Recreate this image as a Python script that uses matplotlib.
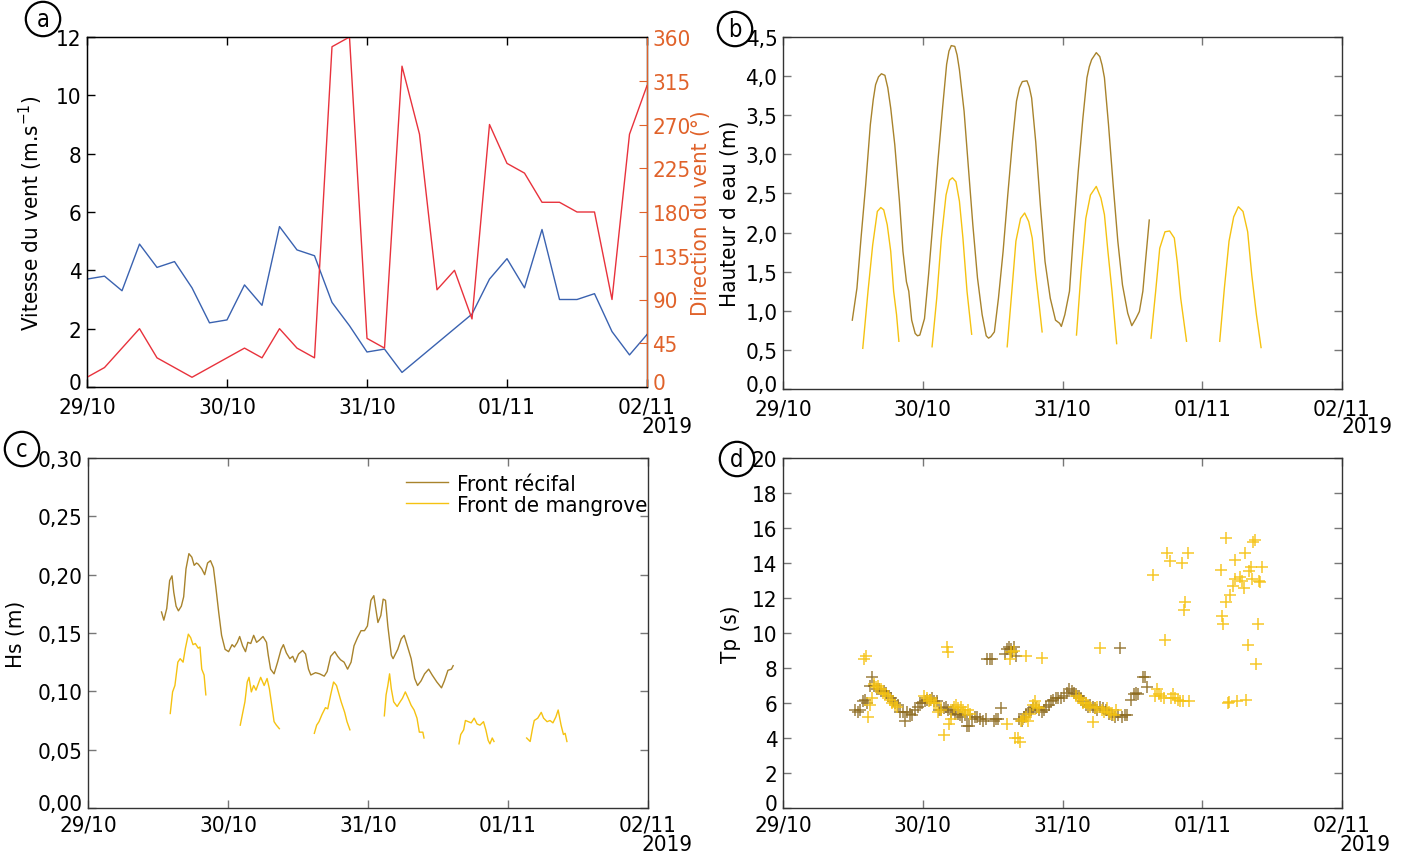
import numpy as np
import pandas as pd
import matplotlib
matplotlib.use("Agg")
import matplotlib.pyplot as plt
import matplotlib.dates as mdates
import matplotlib.transforms as mtransforms
from matplotlib import font_manager as fm

# ---------------- fonts ----------------
_entries = fm.fontManager.ttflist
_names = {f.name for f in _entries}
_cond = [f for f in _entries
         if (('Condensed' in f.fname or 'Narrow' in f.fname or 'Narrow' in f.name
              or 'Condensed' in f.name or str(f.stretch) in ('condensed', 'semi-condensed', '500', '300'))
             and 'Mono' not in f.fname and 'Serif' not in f.fname and 'Bold' not in f.fname
             and 'Italic' not in f.fname and 'Oblique' not in f.fname)]
STRETCH = 'normal'
if 'Liberation Sans Narrow' in _names:
    MAIN = 'Liberation Sans Narrow'
elif _cond:
    MAIN = _cond[0].name
    STRETCH = 'condensed'
elif 'Lato' in _names:
    MAIN = 'Lato'
else:
    MAIN = 'DejaVu Sans'
FAM = [MAIN, 'DejaVu Sans']
plt.rcParams['font.family'] = FAM
plt.rcParams['font.stretch'] = STRETCH
plt.rcParams['mathtext.fontset'] = 'custom'
plt.rcParams['mathtext.rm'] = MAIN
plt.rcParams['mathtext.it'] = MAIN

# ---------------- data ----------------
BASE = pd.Timestamp('2019-10-29')

# (a) wind every 3 h
wind_hours = list(range(0, 97, 3))
wind_speed = [3.7, 3.8, 3.3, 4.9, 4.1, 4.3, 3.4, 2.2, 2.3, 3.5, 2.8, 5.5, 4.7, 4.5, 2.9, 2.1,
              1.2, 1.3, 0.5, 1.0, 1.5, 2.0, 2.5, 3.7, 4.4, 3.4, 5.4, 3.0, 3.0, 3.2, 1.9, 1.1, 1.8]
wind_dir = [10, 20, 40, 60, 30, 20, 10, 20, 30, 40, 30, 60, 40, 30, 350, 360,
            50, 40, 330, 260, 100, 120, 70, 270, 230, 220, 190, 190, 180, 180, 90, 260, 310]

# (b) water height
wl_rec_h = [11.9, 12.7, 13.4, 14.2, 15.0, 15.5, 15.9, 16.4, 16.9, 17.5, 18.0, 18.5, 19.2, 20.0, 20.6, 21.2, 21.6, 22.1,
            22.7, 23.1, 23.5, 24.3, 25.0, 25.8, 26.6, 27.4, 28.1, 28.5, 28.9, 29.5, 29.9, 30.3, 31.1, 31.8, 32.6, 33.4,
            34.2, 34.9, 35.3, 35.7, 36.3, 37.0, 37.8, 38.6, 39.4, 40.1, 40.6, 41.1, 41.9, 42.3, 42.7, 43.4, 44.2, 45.0,
            45.9, 46.8, 47.5, 47.8, 48.4, 49.2, 49.9, 50.7, 51.5, 52.2, 52.6, 53.0, 53.8, 54.4, 54.8, 55.2, 55.9,
            56.7, 57.5, 58.3, 59.2, 59.9, 60.6, 61.2, 61.8, 62.3, 62.9]
wl_rec = [0.88, 1.29, 1.93, 2.61, 3.38, 3.70, 3.89, 3.99, 4.03, 4.01, 3.85, 3.59, 3.12, 2.40, 1.76, 1.37, 1.25, 0.88,
          0.71, 0.68, 0.69, 0.90, 1.46, 2.18, 2.91, 3.59, 4.15, 4.32, 4.39, 4.38, 4.27, 4.08, 3.55, 2.87, 2.10, 1.42,
          0.95, 0.68, 0.65, 0.67, 0.73, 1.16, 1.76, 2.48, 3.16, 3.68, 3.85, 3.93, 3.94, 3.86, 3.72, 3.16, 2.35, 1.63,
          1.16, 0.88, 0.84, 0.80, 0.95, 1.25, 2.01, 2.78, 3.46, 3.98, 4.12, 4.21, 4.30, 4.25, 4.14, 3.98, 3.38,
          2.61, 1.89, 1.33, 0.97, 0.81, 0.90, 0.99, 1.25, 1.67, 2.16]

wl_man_h = [13.7, 14.6, 15.4, 16.2, 16.8, 17.3, 17.9, 18.5, 19.0, 19.5, 19.9, np.nan,
            25.6, 26.4, 27.2, 28.0, 28.6, 29.1, 29.7, 30.3, 30.9, 31.6, 32.4, np.nan,
            38.5, 39.3, 40.0, 40.8, 41.5, 42.2, 42.8, 43.4, 44.0, 44.5, np.nan,
            50.4, 51.2, 52.0, 52.8, 53.8, 54.6, 55.2, 55.8, 56.5, 57.3, np.nan,
            63.2, 64.0, 64.7, 65.6, 66.4, 67.2, 67.7, 68.3, 69.3, np.nan,
            75.0, 75.8, 76.6, 77.4, 78.2, 79.0, 79.8, 80.5, 81.3, 82.1]
wl_man = [0.52, 1.25, 1.84, 2.27, 2.32, 2.29, 2.10, 1.76, 1.25, 0.95, 0.61, np.nan,
          0.54, 1.16, 1.93, 2.48, 2.67, 2.70, 2.65, 2.40, 1.93, 1.25, 0.70, np.nan,
          0.54, 1.25, 1.89, 2.18, 2.25, 2.14, 1.93, 1.46, 1.07, 0.73, np.nan,
          0.69, 1.50, 2.18, 2.48, 2.59, 2.44, 2.23, 1.76, 1.25, 0.58, np.nan,
          0.65, 1.25, 1.80, 2.01, 2.02, 1.93, 1.63, 1.16, 0.61, np.nan,
          0.61, 1.29, 1.89, 2.20, 2.33, 2.27, 2.01, 1.46, 0.95, 0.53]

# (c) significant wave height
hs_rec_h = [12.6, 13.0, 13.5, 14.0, 14.4, 14.7, 15.1, 15.5, 16.0, 16.4, 16.8, 17.3, 17.8, 18.2, 18.6,
            18.9, 19.5, 20.0, 20.5, 21.0, 21.5, 21.9, 22.4, 22.9, 23.5, 24.1, 24.7, 25.1, 25.6, 26.0,
            26.5, 27.0, 27.4, 27.9, 28.4, 28.9, 29.4, 30.0, 30.6, 30.9, 31.3, 31.9, 32.5, 33.1, 33.5,
            34.0, 34.6, 35.1, 35.5, 36.1, 36.8, 37.3, 37.8, 38.2, 39.0, 39.7, 40.5, 41.0, 41.6, 42.3,
            42.8, 43.3, 43.9, 44.5, 45.1, 45.6, 46.2, 46.8, 47.4, 47.9, 48.5, 49.0, 49.3, 49.7, 50.2,
            50.6, 51.0, 51.4, 52.0, 52.3, 53.1, 53.7, 54.2, 54.8, 55.4, 56.0, 56.5, 57.1, 57.7, 58.4,
            59.0, 59.8, 60.6, 61.1, 61.7, 62.3, 62.6]
hs_rec = [0.168, 0.161, 0.171, 0.195, 0.199, 0.185, 0.173, 0.169, 0.173, 0.181, 0.205, 0.218, 0.215,
          0.208, 0.210, 0.209, 0.205, 0.200, 0.210, 0.212, 0.206, 0.190, 0.168, 0.148, 0.136, 0.134,
          0.140, 0.138, 0.142, 0.147, 0.139, 0.134, 0.142, 0.141, 0.148, 0.142, 0.144, 0.147, 0.142,
          0.131, 0.119, 0.115, 0.125, 0.136, 0.140, 0.133, 0.128, 0.130, 0.125, 0.132, 0.135, 0.132,
          0.119, 0.114, 0.116, 0.115, 0.113, 0.117, 0.130, 0.134, 0.130, 0.127, 0.125, 0.119, 0.125,
          0.139, 0.146, 0.152, 0.152, 0.156, 0.178, 0.182, 0.172, 0.159, 0.165, 0.179, 0.178, 0.156,
          0.131, 0.128, 0.136, 0.145, 0.148, 0.138, 0.128, 0.111, 0.105, 0.109, 0.115, 0.119, 0.114,
          0.108, 0.103, 0.109, 0.118, 0.119, 0.122]

hs_man_h = [14.1, 14.5, 14.9, 15.4, 15.8, 16.3, 16.7, 17.2, 17.6, 18.0, 18.4, 18.9, 19.2, 19.5, 19.9, 20.2, np.nan,
            26.1, 26.5, 26.9, 27.3, 27.6, 28.0, 28.4, 28.8, 29.3, 29.6, 30.2, 30.7, 31.1, 31.5, 31.9, 32.3, 32.8, np.nan,
            38.8, 39.2, 39.6, 40.1, 40.7, 41.1, 41.6, 42.1, 42.6, 43.0, 43.4, 44.0, 44.4, 44.9, np.nan,
            50.8, 51.1, 51.4, 51.7, 52.0, 52.4, 53.0, 53.5, 53.9, 54.4, 54.9, 55.4, 55.9, 56.4, 56.8, 57.4, 57.6, np.nan,
            63.6, 63.9, 64.4, 64.7, 65.2, 65.7, 66.2, 66.7, 67.2, 67.8, 68.2, 68.6, 68.9, 69.3, 69.6, np.nan,
            75.2, 75.8, 76.2, 76.5, 77.1, 77.7, 78.1, 78.7, 79.2, 79.7, 80.2, 80.6, 81.1, 81.5, 81.8, 82.1]
hs_man = [0.081, 0.0995, 0.105, 0.125, 0.128, 0.125, 0.137, 0.149, 0.146, 0.140, 0.141, 0.137, 0.138, 0.119, 0.114, 0.097, np.nan,
          0.071, 0.081, 0.091, 0.108, 0.112, 0.0995, 0.105, 0.101, 0.108, 0.112, 0.105, 0.111, 0.102, 0.088, 0.074, 0.071, 0.068, np.nan,
          0.064, 0.071, 0.074, 0.080, 0.086, 0.085, 0.097, 0.108, 0.105, 0.098, 0.091, 0.082, 0.074, 0.067, np.nan,
          0.079, 0.097, 0.105, 0.115, 0.102, 0.091, 0.087, 0.091, 0.094, 0.0995, 0.094, 0.088, 0.084, 0.077, 0.065, 0.065, 0.060, np.nan,
          0.055, 0.063, 0.067, 0.075, 0.074, 0.073, 0.077, 0.072, 0.071, 0.074, 0.067, 0.058, 0.055, 0.060, 0.057, np.nan,
          0.060, 0.057, 0.068, 0.075, 0.077, 0.082, 0.077, 0.074, 0.075, 0.073, 0.078, 0.084, 0.071, 0.063, 0.064, 0.057]

# (d) peak period
tp_rec_h = [12.3, 12.8, 13.2, 13.7, 14.1, 14.5, 14.9, 15.3, 15.7, 16.1, 16.5, 16.9, 17.3, 17.7, 18.1,
            18.5, 18.9, 19.3, 19.7, 20.1, 20.6, 21.0, 21.3, 21.8, 22.2, 22.7, 23.1, 23.5, 23.9, 24.4,
            24.8, 25.2, 25.6, 26.0, 26.4, 26.8, 27.2, 27.6, 28.0, 28.4, 28.8, 29.2, 29.6, 30.0, 30.4,
            30.8, 31.2, 31.6, 32.0, 32.5, 32.9, 33.4, 33.9, 34.3, 34.8, 35.1, 35.5, 35.9, 36.2, 36.6,
            37.0, 37.4, 38.2, 38.5, 38.8, 39.1, 39.4, 39.7, 40.1, 40.6, 41.0, 41.4, 41.8, 42.2, 42.6,
            43.0, 43.5, 43.9, 44.4, 44.8, 45.2, 45.6, 46.0, 46.4, 46.8, 47.3, 47.8, 48.3, 48.8, 49.2,
            49.6, 50.0, 50.4, 50.8, 51.2, 51.6, 52.0, 52.4, 52.8, 53.2, 53.6, 54.0, 54.5, 55.0, 55.5,
            56.0, 56.5, 57.0, 57.5, 57.9, 58.3, 58.7, 59.1, 59.8, 60.2, 60.6, 61.0, 61.8, 62.1, 62.5]
tp_rec = [5.6, 5.5, 5.6, 6.1, 6.2, 6.0, 7.0, 7.5, 7.0, 6.8, 6.8, 6.7, 6.7, 6.6, 6.4,
          6.3, 6.1, 6.0, 5.9, 5.5, 5.5, 5.0, 5.5, 5.4, 5.3, 5.6, 5.8, 6.0, 6.0, 6.1,
          6.2, 6.2, 6.3, 6.1, 6.1, 5.6, 5.6, 5.7, 5.8, 5.6, 5.5, 5.6, 5.4, 5.4, 5.3,
          5.2, 5.3, 4.7, 4.7, 5.1, 5.2, 5.2, 5.1, 5.0, 5.1, 8.5, 8.5, 8.5, 5.0, 5.1,
          5.1, 5.7, 8.8, 9.1, 9.2, 9.1, 8.9, 9.2, 8.7, 5.1, 5.0, 5.2, 5.4, 5.5, 5.6,
          5.7, 5.7, 5.6, 5.5, 5.6, 5.8, 5.9, 6.1, 6.2, 6.3, 6.3, 6.3, 6.4, 6.6, 6.8,
          6.7, 6.6, 6.5, 6.4, 6.3, 6.1, 5.9, 5.8, 5.9, 5.8, 5.7, 5.6, 5.8, 5.7, 5.6,
          5.4, 5.3, 5.2, 5.3, 9.15, 5.2, 5.3, 5.3, 6.2, 6.5, 6.6, 6.5, 7.5, 7.5, 6.9]

tp_man_h = [13.9, 14.3, 14.6, 15.0, 15.2, 15.6, 16.0, 16.4, 16.8, 17.2, 17.6, 18.0, 18.4, 18.8, 19.2, 19.6,
            24.3, 24.7, 25.1, 25.5, 25.9, 26.3, 26.7, 27.1, 27.7, 28.1, 28.3, 28.5, 28.9, 29.3, 29.7, 30.1,
            30.5, 30.9, 31.3, 31.7, 32.1,
            38.4, 38.9, 39.2, 39.6, 39.8, 40.3, 40.7, 40.9, 41.3, 41.7, 41.8, 42.1, 42.5, 42.9, 43.2, 43.6,
            44.0, 44.4,
            50.4, 50.8, 51.2, 51.6, 52.0, 52.4, 52.8, 53.2, 53.6, 54.0, 54.4, 54.8, 55.2, 55.6, 56.0, 56.4,
            56.8, 57.2,
            63.5, 63.8, 64.2, 64.6, 65.0, 65.4, 65.6, 66.0, 66.4, 66.6, 67.0, 67.4, 67.8, 68.2, 68.5, 68.7,
            68.9, 69.1, 69.5, 69.7,
            75.3, 75.4, 75.5, 76.0, 76.1, 76.4, 76.6, 76.8, 77.2, 77.6, 77.7, 77.9, 78.4, 78.8, 79.1, 79.4,
            79.5, 79.8, 80.1, 80.3, 80.5, 80.8, 81.1, 81.3, 81.6, 81.8, 82.0, 82.2]
tp_man = [8.5, 8.7, 5.2, 5.9, 6.3, 7.1, 6.9, 7.0, 6.8, 6.6, 6.5, 6.4, 6.2, 6.0, 5.9, 5.8,
          6.4, 6.3, 6.1, 6.2, 6.0, 6.0, 5.5, 5.6, 4.2, 9.2, 8.9, 4.8, 5.1, 5.8, 5.9, 5.7,
          5.8, 5.6, 5.5, 5.6, 5.4,
          4.8, 8.5, 8.9, 9.0, 4.0, 4.0, 3.8, 5.0, 5.1, 5.2, 8.7, 5.0, 5.4, 5.9, 6.1, 5.8,
          5.7, 8.6,
          6.4, 6.3, 6.2, 6.0, 6.0, 5.9, 5.8, 4.9, 5.7, 5.8, 9.15, 5.6, 5.5, 5.7, 5.5, 5.4,
          5.3, 5.6,
          13.3, 6.4, 6.8, 6.5, 6.4, 6.3, 9.6, 14.6, 14.1, 6.3, 6.5, 6.3, 6.2, 6.1, 14.0, 6.1,
          11.3, 11.75, 14.6, 6.1,
          13.6, 10.95, 10.5, 15.45, 11.8, 6.0, 6.05, 12.2, 12.7, 14.2, 13.1, 6.1, 13.2, 13.0, 12.6, 14.6,
          6.2, 9.3, 13.55, 13.8, 13.1, 15.2, 15.3, 8.25, 10.5, 13.0, 12.9, 13.8]

labels = ['Front récifal', 'Front de mangrove']

# ---------------- styling ----------------
C_BLUE = '#3a62b0'
C_RED = '#e8323c'
C_ORANGE = '#e0622a'
C_BROWN = '#a8832c'
C_YELLOW = '#f5c211'
C_DBROWN = '#8c6a1e'
FS = 16


def t(h):
    return BASE + pd.to_timedelta(np.asarray(h, dtype=float), unit='h')


fig = plt.figure(figsize=(14.07, 8.54), dpi=100)
W, H = 1407.0, 854.0
UP = mtransforms.ScaledTranslation(0, 4 / 72, fig.dpi_scale_trans)


def axes_px(l, r, top, bot):
    return fig.add_axes([l / W, 1 - bot / H, (r - l) / W, (bot - top) / H])


axA = axes_px(87, 647, 38, 388)
axB = axes_px(783, 1342, 38, 390)
axC = axes_px(88, 648, 459, 809)
axD = axes_px(783, 1342, 459, 809)


def style_time(ax, spine_col='#333333', xpad=7):
    ax.set_xlim(BASE, BASE + pd.Timedelta(days=4))
    ax.xaxis.set_major_locator(mdates.DayLocator())
    ax.xaxis.set_major_formatter(mdates.DateFormatter('%d/%m'))
    ax.tick_params(direction='in', length=6, width=1, top=True, right=True,
                   labelsize=FS, colors='#777777', labelcolor='black', pad=4)
    ax.tick_params(axis='x', pad=xpad)
    for s in ax.spines.values():
        s.set_color(spine_col)
        s.set_linewidth(1)


def lift_zero(ax):
    # raise the lowest y tick label slightly, as in the reference
    for tk in ax.yaxis.get_major_ticks()[:1]:
        for lab in (tk.label1, tk.label2):
            lab.set_transform(lab.get_transform() + UP)


# (a)
axA.plot(t(wind_hours), wind_speed, color=C_BLUE, lw=1)
style_time(axA, 'black')
axA.tick_params(right=False, colors='black')
axA.set_ylim(0, 12)
axA.set_yticks(range(0, 13, 2))
axA.set_ylabel('Vitesse du vent (m.s$^{-1}$)', fontsize=FS, labelpad=8)
axA2 = axA.twinx()
axA2.plot(t(wind_hours), wind_dir, color=C_RED, lw=1)
axA2.set_ylim(0, 360)
axA2.set_yticks(range(0, 361, 45))
axA2.tick_params(direction='in', length=6, colors=C_ORANGE, labelsize=FS, pad=4)
axA2.spines['right'].set_color(C_ORANGE)
axA2.set_ylabel('Direction du vent (°)', fontsize=FS, color=C_ORANGE, labelpad=0)
axA2.set_xlim(BASE, BASE + pd.Timedelta(days=4))

# (b)
axB.plot(t(wl_rec_h), wl_rec, color=C_BROWN, lw=1)
axB.plot(t(wl_man_h), wl_man, color=C_YELLOW, lw=1)
style_time(axB)
axB.set_ylim(0, 4.5)
yb = np.arange(0, 4.51, 0.5)
axB.set_yticks(yb)
axB.set_yticklabels([f'{v:.1f}'.replace('.', ',') for v in yb])
axB.set_ylabel("Hauteur d eau (m)", fontsize=FS, labelpad=4)

# (c)
axC.plot(t(hs_rec_h), hs_rec, color=C_BROWN, lw=1, label=labels[0])
axC.plot(t(hs_man_h), hs_man, color=C_YELLOW, lw=1, label=labels[1])
style_time(axC, xpad=5)
axC.set_ylim(0, 0.30)
yc = np.arange(0, 0.301, 0.05)
axC.set_yticks(yc)
axC.set_yticklabels([f'{v:.2f}'.replace('.', ',') for v in yc])
axC.set_ylabel('Hs (m)', fontsize=FS, labelpad=8)
axC.legend(loc='upper left', bbox_to_anchor=(0.54, 1.0), frameon=False, fontsize=FS,
           handlelength=1.9, handletextpad=0.4, labelspacing=0.05, borderaxespad=0.3)

# (d)
axD.plot(t(tp_rec_h), tp_rec, ls='none', marker='+', ms=9, mew=1.1, color=C_DBROWN, alpha=0.85)
axD.plot(t(tp_man_h), tp_man, ls='none', marker='+', ms=9, mew=1.1, color=C_YELLOW, alpha=0.9)
style_time(axD, xpad=5)
axD.set_ylim(0, 20)
axD.set_yticks(range(0, 21, 2))
axD.set_ylabel('Tp (s)', fontsize=FS, labelpad=8)

for ax in (axA, axA2, axB, axC, axD):
    lift_zero(ax)

# panel letters
for letter, (px, py) in zip('abcd', [(43, 20), (735, 30), (22, 450), (737, 460)]):
    fig.text(px / W, 1 - py / H, letter, fontsize=FS + 1, ha='center', va='center',
             bbox=dict(boxstyle='circle,pad=0.22', fc='white', ec='black', lw=1.6))

# year labels
for (px, py) in [(667, 427), (1367, 427), (667, 845), (1365, 845)]:
    fig.text(px / W, 1 - py / H, '2019', fontsize=FS, ha='center', va='center')

fig.savefig('out.png', dpi=100)
